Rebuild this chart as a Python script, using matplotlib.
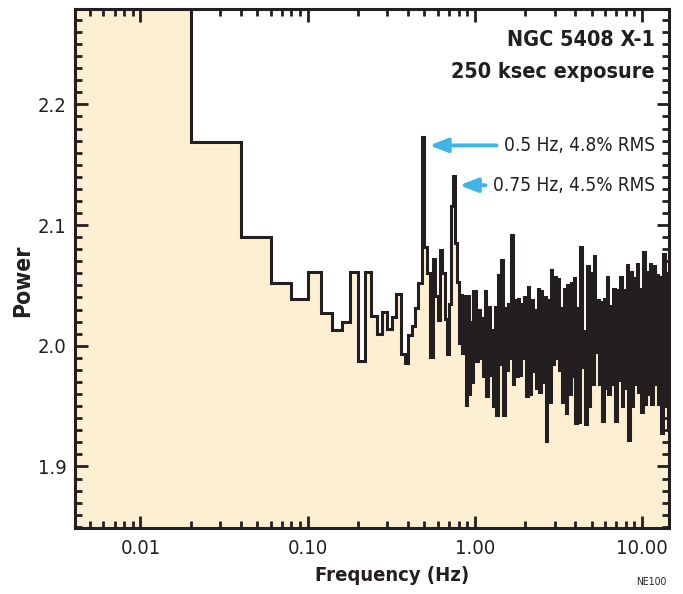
import matplotlib.pyplot as plt
import numpy as np
from matplotlib.ticker import (FixedLocator, LogLocator, MultipleLocator,
                               NullFormatter, FormatStrFormatter)

plt.rcParams['font.family'] = ['DejaVu Sans']
plt.rcParams['font.stretch'] = 'condensed'

# Power spectrum, 0.02 Hz bins from 0 to 1 Hz (first bin runs off the top)
bin_width = 0.02
low_power = [2.40, 2.169, 2.090, 2.052, 2.039, 2.061, 2.027, 2.013, 2.020, 2.061,
             1.987, 2.061, 2.025, 2.010, 2.028, 2.014, 2.024, 2.043, 1.993, 1.986,
             2.009, 2.016, 2.031, 2.052, 2.173, 2.082, 2.060, 1.991, 2.072, 2.041,
             2.021, 2.079, 2.060, 2.022, 1.993, 2.035, 2.116, 2.141, 2.085, 2.053,
             2.002, 2.042, 1.994, 2.041, 1.951, 2.041, 1.960, 2.020, 1.970, 2.045]

# above 1 Hz the bins are too dense to read one by one: high/low pairs
high_start, high_stop = 1.0, 14.6
high_power = [
    2.045, 1.987, 2.030, 1.990, 2.023, 1.975, 2.045, 1.958, 2.032, 1.976,
    2.013, 1.950, 2.032, 1.943, 2.059, 1.985, 2.071, 1.943, 2.031, 1.980,
    2.035, 1.990, 2.092, 1.968, 2.038, 1.975, 2.039, 1.976, 2.035, 1.990,
    2.040, 1.958, 2.049, 1.960, 2.038, 1.979, 2.030, 1.965, 2.047, 1.962,
    2.045, 1.970, 2.040, 1.921, 2.038, 1.953, 2.063, 1.985, 2.057, 1.990,
    2.055, 1.980,
    2.031, 1.953, 2.047, 1.944, 2.050, 1.960, 2.052, 1.975, 2.056, 1.936,
    2.031, 1.937, 2.082, 1.982, 2.012, 1.935, 2.066, 1.950, 2.060, 1.968,
    2.074, 1.995, 2.038, 1.968, 2.036, 1.938, 2.039, 1.965, 2.057, 1.960,
    2.033, 1.968, 2.047, 1.938, 2.046, 1.972, 2.057, 1.950, 2.046, 1.965,
    2.067, 1.922, 2.061, 1.950, 2.056, 1.968, 2.068, 1.962, 2.047, 1.945,
    2.078, 1.952, 2.061, 1.960, 2.068, 1.952, 2.066, 1.968, 2.059, 1.952,
    2.057, 1.928, 2.076, 1.950, 2.060, 1.932]

x_ticks = [0.01, 0.1, 1, 10]
x_ticklabels = ['0.01', '0.10', '1.00', '10.00']

dark = '#231f20'
cream = '#fdf0d2'
blue = '#3fb4e6'

low_edges = bin_width * np.arange(len(low_power) + 1)
low_edges[0] = 1e-3  # log axis, keep the first edge off to the left
high_edges = np.geomspace(high_start, high_stop, len(high_power) + 1)
edges = np.concatenate([low_edges, high_edges[1:]])
power = np.array(low_power + high_power)

fig = plt.figure(figsize=(6.83, 5.94), dpi=100)
ax = fig.add_axes([0.1098, 0.1111, 0.8697, 0.8737])

ax.stairs(power, edges, baseline=1.7, fill=True, color=cream, lw=0)
ax.stairs(power, edges, baseline=None, color=dark, lw=2.2)

ax.set_xscale('log')
ax.set_xlim(0.00406, 14.5)
ax.set_ylim(1.849, 2.279)

ax.xaxis.set_major_locator(FixedLocator(x_ticks))
ax.set_xticklabels(x_ticklabels)
ax.xaxis.set_minor_locator(LogLocator(base=10, subs=np.arange(2, 10)))
ax.xaxis.set_minor_formatter(NullFormatter())
ax.yaxis.set_major_locator(MultipleLocator(0.1))
ax.yaxis.set_minor_locator(MultipleLocator(0.01))
ax.yaxis.set_major_formatter(FormatStrFormatter('%.1f'))

ax.tick_params(which='both', direction='in', top=True, right=True,
               width=2, color=dark, labelcolor=dark)
ax.tick_params(which='major', length=9, labelsize=14.5)
ax.tick_params(which='minor', length=5)
ax.tick_params(axis='x', pad=8)
ax.tick_params(axis='y', pad=6)
for s in ax.spines.values():
    s.set_linewidth(2.2)
    s.set_color(dark)

ax.set_xlabel('Frequency (Hz)', fontsize=14.5, fontweight='bold', color=dark, labelpad=6)
ax.xaxis.label.set_x(0.534)
ax.set_ylabel('Power', fontsize=16.5, fontweight='bold', color=dark)
ax.yaxis.set_label_coords(-0.068, 0.476)

ax.text(0.976, 0.94, 'NGC 5408 X-1', transform=ax.transAxes, ha='right', va='center',
        fontsize=15.5, fontweight='bold', color=dark)
ax.text(0.976, 0.879, '250 ksec exposure', transform=ax.transAxes, ha='right', va='center',
        fontsize=15.5, fontweight='bold', color=dark)

arrow = dict(arrowstyle='-|>,head_length=0.9,head_width=0.35', color=blue, lw=2.8,
             shrinkA=3, shrinkB=0, mutation_scale=12)
ax.annotate('0.5 Hz, 4.8% RMS', xy=(0.535, 2.166), xytext=(11.9, 2.166),
            ha='right', va='center', fontsize=13.7, color=dark, arrowprops=arrow)
ax.annotate('0.75 Hz, 4.5% RMS', xy=(0.81, 2.133), xytext=(11.9, 2.133),
            ha='right', va='center', fontsize=13.7, color=dark, arrowprops=arrow)

fig.text(0.953, 0.02, 'NE100', ha='center', va='center', fontsize=7.5, color=dark)

fig.savefig('out.png', dpi=100)
